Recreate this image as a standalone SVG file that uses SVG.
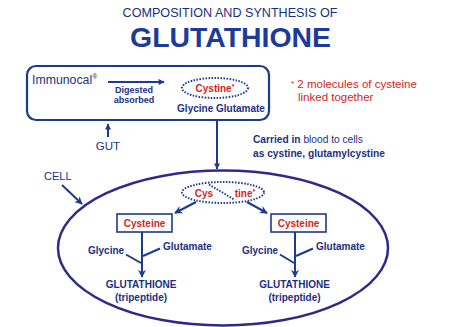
<svg xmlns="http://www.w3.org/2000/svg" width="462" height="327" viewBox="0 0 462 327">
<style>
text{font-family:"Liberation Sans",Arial,sans-serif;fill:#1c2f7e}
.b{font-weight:bold}
.red{fill:#d41f26}
.c{text-anchor:middle}
.ln{stroke:#1c3a8e;stroke-width:2;fill:none}
.dot{stroke:#1c3a8e;stroke-width:2;fill:none;stroke-dasharray:1.5 1.5}
.box{fill:#fff;stroke:#1c3a8e;stroke-width:1.6}
</style>
<defs>
<marker id="ah" viewBox="0 0 10 10" refX="9" refY="5" markerWidth="4" markerHeight="4" orient="auto" markerUnits="strokeWidth"><path d="M0,0 L10,5 L0,10 L3,5 Z" fill="#1c3a8e"/></marker>
<marker id="ahb" viewBox="0 0 10 10" refX="9" refY="5" markerWidth="3.3" markerHeight="3" orient="auto" markerUnits="strokeWidth"><path d="M0,0 L10,5 L0,10 Z" fill="#1c3a8e"/></marker>
</defs>
<g id="title">
<text x="230" y="17" class="c" font-size="12.6">COMPOSITION AND SYNTHESIS OF</text>
<text x="230.5" y="47" class="c b" font-size="28.4" style="fill:#1b3a9a">GLUTATHIONE</text>
</g>
<g id="gut-box">
<rect x="27" y="66" width="242" height="54" rx="9" fill="none" stroke="#1c3a8e" stroke-width="2.2"/>
<text x="32" y="84" font-size="12.3">Immunocal<tspan font-size="7" dy="-5">®</tspan></text>
<text x="134" y="93" class="c b" font-size="9">Digested</text>
<text x="134" y="102.5" class="c b" font-size="9">absorbed</text>
<ellipse cx="215" cy="88" rx="33" ry="10" class="dot"/>
<text x="215" y="92" class="c b red" font-size="10">Cystine<tspan font-size="7" dy="-3">*</tspan></text>
<text x="221" y="112" class="c b" font-size="10">Glycine Glutamate</text>
</g>
<g id="note">
<text x="291" y="88" class="red" font-size="11.5"><tspan font-size="8" dy="-2">*</tspan><tspan dy="2"> 2 molecules of cysteine</tspan></text>
<text x="298" y="101" class="red" font-size="11.5">linked together</text>
</g>
<g id="gut-label">
<text x="108" y="149.5" class="c" font-size="11.5">GUT</text>
</g>
<g id="blood-label">
<text x="253" y="143" class="b" font-size="10.2">Carried in <tspan font-weight="normal">blood to cells</tspan></text>
<text x="253" y="156.5" class="b" font-size="10.2">as cystine, glutamylcystine</text>
</g>
<g id="cell-label">
<text x="44" y="180" font-size="11">CELL</text>
</g>
<g id="cell">
<ellipse cx="223" cy="248" rx="165" ry="77.5" fill="none" stroke="#2d2a8a" stroke-width="2.5"/>
</g>
<g id="cell-cystine">
<ellipse cx="223" cy="192.5" rx="41" ry="10.5" class="dot"/>
<line x1="209" y1="184.5" x2="235" y2="200" class="dot"/>
<text x="204" y="197" class="c b red" font-size="10">Cys</text>
<text x="245" y="197" class="c b red" font-size="10">tine<tspan font-size="7" dy="-3">*</tspan></text>
</g>
<g id="cysteine-left">
<rect x="117" y="214" width="55" height="18" class="box"/>
<text x="144.5" y="227" class="c b red" font-size="10">Cysteine</text>
</g>
<g id="cysteine-right">
<rect x="271" y="214" width="55" height="18" class="box"/>
<text x="298.5" y="227" class="c b red" font-size="10">Cysteine</text>
</g>
<g id="left-products">
<text x="88" y="254" class="b" font-size="10">Glycine</text>
<text x="163" y="250" class="b" font-size="10">Glutamate</text>
<text x="141" y="288" class="c b" font-size="10">GLUTATHIONE</text>
<text x="141" y="301" class="c b" font-size="10">(tripeptide)</text>
</g>
<g id="right-products">
<text x="242" y="254" class="b" font-size="10">Glycine</text>
<text x="316" y="250" class="b" font-size="10">Glutamate</text>
<text x="294.5" y="288" class="c b" font-size="10">GLUTATHIONE</text>
<text x="294.5" y="301" class="c b" font-size="10">(tripeptide)</text>
</g>
<g id="connectors">
<line x1="108" y1="82" x2="164" y2="82" class="ln" stroke-width="1.6" marker-end="url(#ahb)"/>
<line x1="108" y1="137" x2="108" y2="124" class="ln" stroke-width="1.5" marker-end="url(#ahb)"/>
<line x1="217" y1="120" x2="217" y2="169" class="ln" stroke-width="3" marker-end="url(#ahb)"/>
<line x1="62" y1="185" x2="82" y2="204" class="ln" stroke-width="1.6" marker-end="url(#ah)"/>
<line x1="196" y1="202" x2="175" y2="213" class="ln" marker-end="url(#ah)"/>
<line x1="247" y1="202" x2="267" y2="213" class="ln" marker-end="url(#ah)"/>
<line x1="142" y1="232" x2="142" y2="277" class="ln" marker-end="url(#ah)"/>
<line x1="126" y1="254.5" x2="141" y2="263" class="ln"/>
<line x1="160" y1="248.5" x2="143" y2="256" class="ln"/>
<line x1="295" y1="232" x2="295" y2="277" class="ln" marker-end="url(#ah)"/>
<line x1="280" y1="254.5" x2="294" y2="263" class="ln"/>
<line x1="313" y1="248.5" x2="296" y2="256" class="ln"/>
</g>
</svg>
